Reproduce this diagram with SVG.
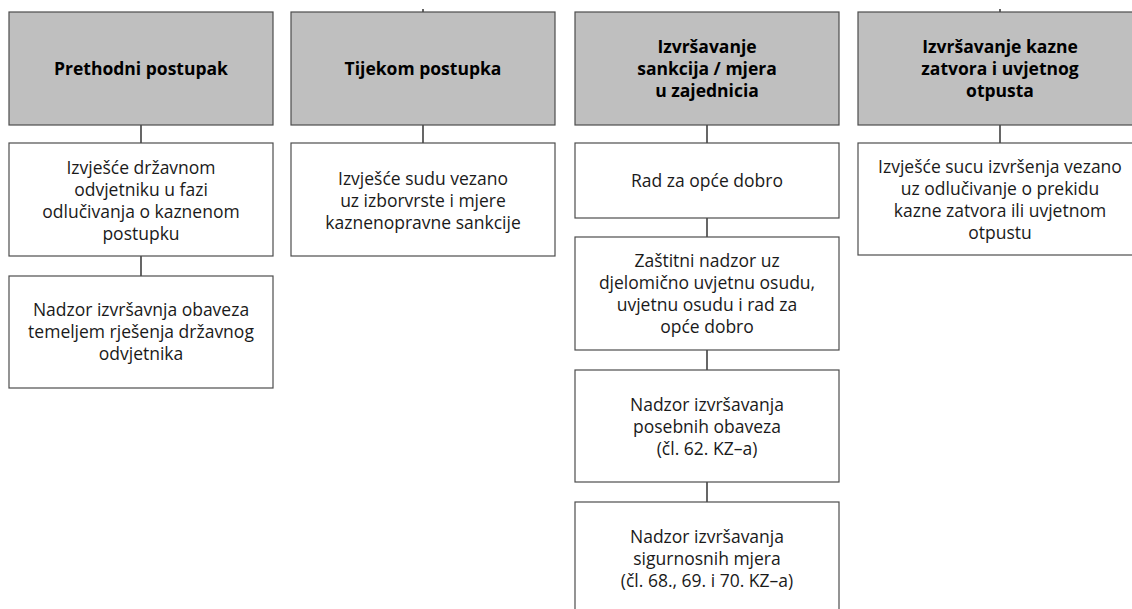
<svg xmlns="http://www.w3.org/2000/svg" width="1132" height="609" viewBox="0 0 1132 609">
<style>
.hd{fill:#bfbfbf;stroke:#4d4d4d;stroke-width:1.2}
.bx{fill:#ffffff;stroke:#4d4d4d;stroke-width:1.2}
.t{font-family:"Open Sans","Noto Sans","Liberation Sans",sans-serif;font-size:17.5px;fill:#1a1a1a;text-anchor:middle}
.b{font-weight:bold;fill:#000}
.cn{stroke:#000;stroke-width:1.2;fill:none}
</style>
<rect width="1132" height="609" fill="#ffffff"/>
<g id="connectors">
<line class="cn" x1="141" y1="125" x2="141" y2="143"/>
<line class="cn" x1="141" y1="256" x2="141" y2="276"/>
<line class="cn" x1="423" y1="9" x2="423" y2="12"/>
<line class="cn" x1="423" y1="125" x2="423" y2="143"/>
<line class="cn" x1="707" y1="125" x2="707" y2="143"/>
<line class="cn" x1="707" y1="218" x2="707" y2="237"/>
<line class="cn" x1="707" y1="350" x2="707" y2="370"/>
<line class="cn" x1="707" y1="482" x2="707" y2="502"/>
<line class="cn" x1="1000" y1="9" x2="1000" y2="12"/>
<line class="cn" x1="1000" y1="125" x2="1000" y2="143"/>
</g>
<g id="h1">
<rect class="hd" x="9" y="12" width="264" height="113"/>
<text class="t b" x="141" y="75">Prethodni postupak</text>
</g>
<g id="n1a">
<rect class="bx" x="9" y="143" width="264" height="113"/>
<text class="t" x="141" y="174">Izvješće državnom</text>
<text class="t" x="141" y="196">odvjetniku u fazi</text>
<text class="t" x="141" y="218">odlučivanja o kaznenom</text>
<text class="t" x="141" y="240">postupku</text>
</g>
<g id="n1b">
<rect class="bx" x="9" y="276" width="264" height="112"/>
<text class="t" x="141" y="316">Nadzor izvršavnja obaveza</text>
<text class="t" x="141" y="338">temeljem rješenja državnog</text>
<text class="t" x="141" y="360">odvjetnika</text>
</g>
<g id="h2">
<rect class="hd" x="291" y="12" width="264" height="113"/>
<text class="t b" x="423" y="75">Tijekom postupka</text>
</g>
<g id="n2a">
<rect class="bx" x="291" y="143" width="264" height="113"/>
<text class="t" x="423" y="185">Izvješće sudu vezano</text>
<text class="t" x="423" y="207">uz izborvrste i mjere</text>
<text class="t" x="423" y="229">kaznenopravne sankcije</text>
</g>
<g id="h3">
<rect class="hd" x="575" y="12" width="264" height="113"/>
<text class="t b" x="707" y="53">Izvršavanje</text>
<text class="t b" x="707" y="75">sankcija / mjera</text>
<text class="t b" x="707" y="97">u zajednicia</text>
</g>
<g id="n3a">
<rect class="bx" x="575" y="143" width="264" height="75"/>
<text class="t" x="707" y="187">Rad za opće dobro</text>
</g>
<g id="n3b">
<rect class="bx" x="575" y="237" width="264" height="113"/>
<text class="t" x="707" y="267">Zaštitni nadzor uz</text>
<text class="t" x="707" y="289">djelomično uvjetnu osudu,</text>
<text class="t" x="707" y="311">uvjetnu osudu i rad za</text>
<text class="t" x="707" y="333">opće dobro</text>
</g>
<g id="n3c">
<rect class="bx" x="575" y="370" width="264" height="112"/>
<text class="t" x="707" y="411">Nadzor izvršavanja</text>
<text class="t" x="707" y="433">posebnih obaveza</text>
<text class="t" x="707" y="455">(čl. 62. KZ–a)</text>
</g>
<g id="n3d">
<rect class="bx" x="575" y="502" width="264" height="114"/>
<text class="t" x="707" y="543">Nadzor izvršavanja</text>
<text class="t" x="707" y="565">sigurnosnih mjera</text>
<text class="t" x="707" y="587">(čl. 68., 69. i 70. KZ–a)</text>
</g>
<g id="h4">
<rect class="hd" x="858" y="12" width="284" height="113"/>
<text class="t b" x="1000" y="53">Izvršavanje kazne</text>
<text class="t b" x="1000" y="75">zatvora i uvjetnog</text>
<text class="t b" x="1000" y="97">otpusta</text>
</g>
<g id="n4a">
<rect class="bx" x="858" y="143" width="284" height="112"/>
<text class="t" x="1000" y="173">Izvješće sucu izvršenja vezano</text>
<text class="t" x="1000" y="195">uz odlučivanje o prekidu</text>
<text class="t" x="1000" y="217">kazne zatvora ili uvjetnom</text>
<text class="t" x="1000" y="239">otpustu</text>
</g>
</svg>
